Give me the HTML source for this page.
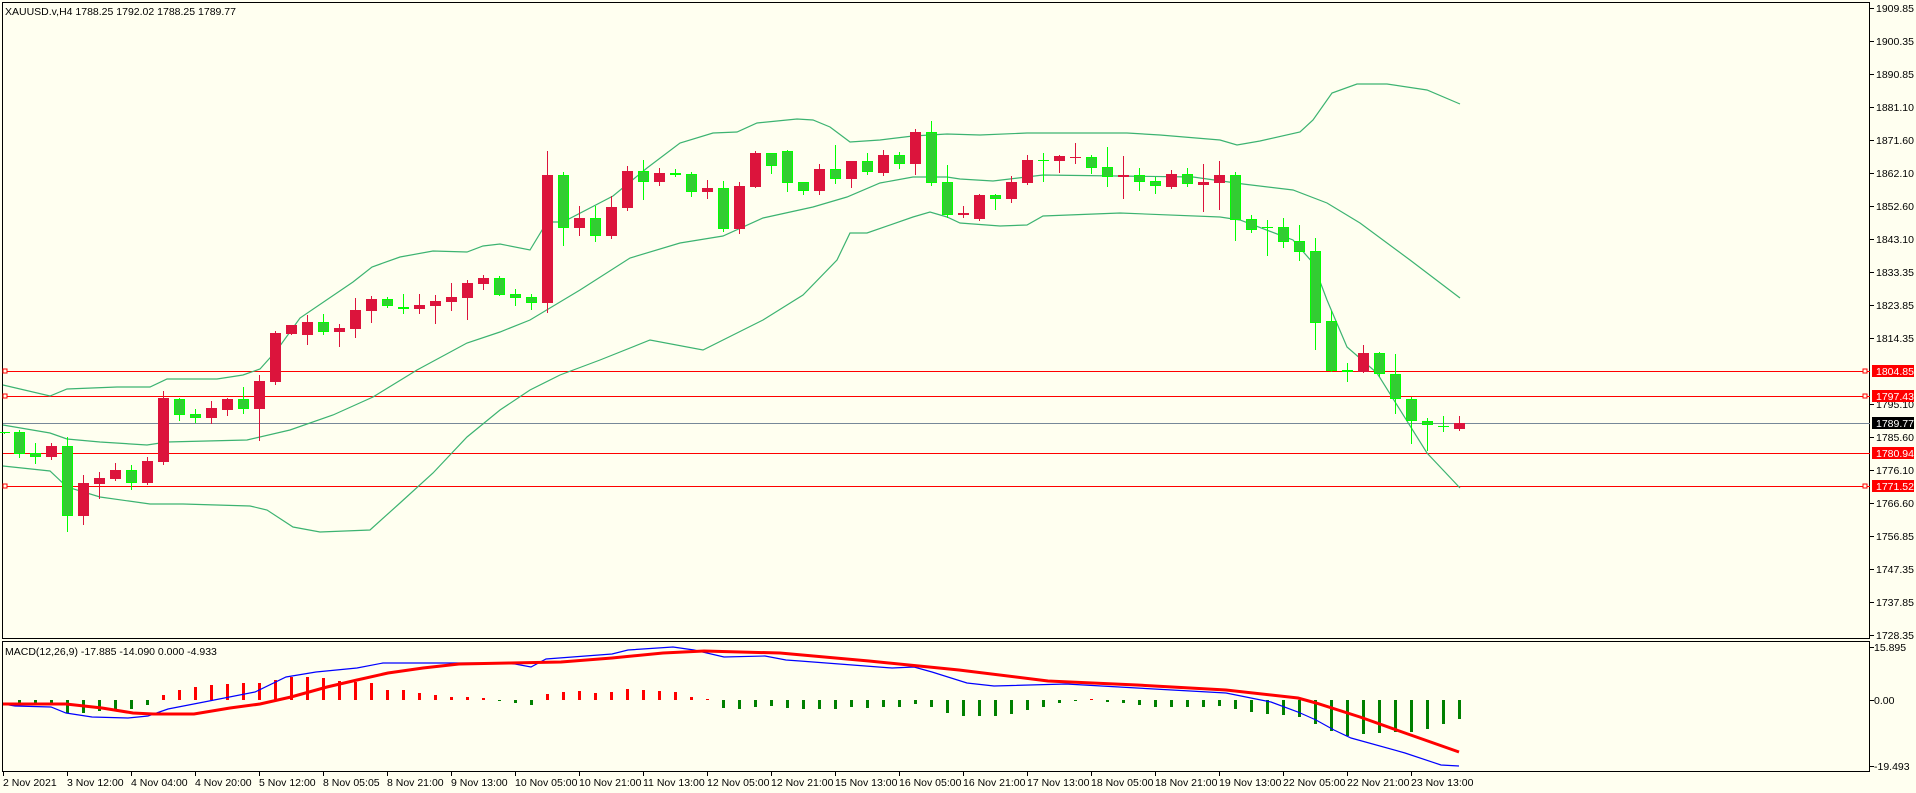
<!DOCTYPE html>
<html><head><meta charset="utf-8">
<style>
html,body{margin:0;padding:0;background:#fffff0;}
svg{display:block;}
text{font-family:"Liberation Sans",sans-serif;font-size:10.5px;fill:#000;}
</style></head>
<body>
<svg id="s" width="1916" height="793" viewBox="0 0 1916 793" xmlns="http://www.w3.org/2000/svg">
<rect width="1916" height="793" fill="#fffff0"/>
<g id="g"></g>
<text x="5" y="15">XAUUSD.v,H4  1788.25 1792.02 1788.25 1789.77</text>
<text x="5" y="655">MACD(12,26,9) -17.885 -14.090 0.000 -4.933</text>
</svg>
<script>
const NS="http://www.w3.org/2000/svg";const g=document.getElementById('g');
function el(t,a,txt){const e=document.createElementNS(NS,t);for(const k in a)e.setAttribute(k,a[k]);if(txt!==undefined)e.textContent=txt;g.appendChild(e);return e;}
// frames
el('rect',{x:2.5,y:2.5,width:1867,height:636,fill:'none',stroke:'#000','stroke-width':1});
el('rect',{x:2.5,y:641.5,width:1867,height:130,fill:'none',stroke:'#000','stroke-width':1});
// price axis
const pl=[["1909.85",8],["1900.35",41],["1890.85",74],["1881.10",107],["1871.60",140],["1862.10",173],["1852.60",206],["1843.10",239],["1833.35",272],["1823.85",305],["1814.35",338],["1795.10",404],["1785.60",437],["1776.10",470],["1766.60",503],["1756.85",536],["1747.35",569],["1737.85",602],["1728.35",635]];
pl.forEach(p=>{el('line',{x1:1870,x2:1874,y1:p[1]+.5,y2:p[1]+.5,stroke:'#000'});el('text',{x:1876,y:p[1]+4},p[0]);});
[["15.895",647],["0.00",700],["-19.493",766]].forEach(p=>{el('line',{x1:1870,x2:1874,y1:p[1]+.5,y2:p[1]+.5,stroke:'#000'});el('text',{x:1874,y:p[1]+4},p[0]);});
// date labels
const dl=["2 Nov 2021","3 Nov 12:00","4 Nov 04:00","4 Nov 20:00","5 Nov 12:00","8 Nov 05:05","8 Nov 21:00","9 Nov 13:00","10 Nov 05:00","10 Nov 21:00","11 Nov 13:00","12 Nov 05:00","12 Nov 21:00","15 Nov 13:00","16 Nov 05:00","16 Nov 21:00","17 Nov 13:00","18 Nov 05:00","18 Nov 21:00","19 Nov 13:00","22 Nov 05:00","22 Nov 21:00","23 Nov 13:00"];
dl.forEach((d,i)=>{const x=3+i*64;el('line',{x1:x+.5,x2:x+.5,y1:772,y2:776,stroke:'#000'});el('text',{x:x,y:786},d);});
// horizontal lines
const hl=[[371,'#ff0000',1,"1804.85"],[396,'#ff0000',1,"1797.43"],[453,'#ff0000',0,"1780.94"],[486,'#ff0000',1,"1771.52"]];
el('line',{x1:3,x2:1870,y1:423.5,y2:423.5,stroke:'#778899'});
el('rect',{x:1872,y:417,width:42,height:12,fill:'#000'});el('text',{x:1876,y:427,style:'fill:#fff'},"1789.77");
hl.forEach(h=>{el('line',{x1:3,x2:1870,y1:h[0]+.5,y2:h[0]+.5,stroke:h[1]});
 el('rect',{x:1872,y:h[0]-6,width:42,height:12,fill:'#ff0000'});el('text',{x:1876,y:h[0]+4,style:'fill:#fff'},h[3]);
 if(h[2]){el('rect',{x:3,y:h[0]-2,width:4,height:4,fill:'#fffff0',stroke:'#ff0000'});el('rect',{x:1863,y:h[0]-2,width:4,height:4,fill:'#fffff0',stroke:'#ff0000'});}});
// bollinger
function pl2(pts,c,w){el('polyline',{points:pts.map(p=>p.join(',')).join(' '),fill:'none',stroke:c,'stroke-width':w||1.2});}
const bc='#3cb371';
pl2([[3,385],[50,396],[67,389],[117,387],[150,387],[167,379],[217,379],[243,375],[260,369],[277,350],[300,318],[353,282],[372,267],[400,257],[433,251],[467,252],[483,246],[500,244],[530,250],[547,222],[563,222],[613,196],[647,168],[680,143],[713,133],[737,132],[757,123],[797,119],[813,120],[830,127],[850,142],[880,140],[913,136],[947,134],[980,135],[1027,133],[1127,133],[1160,135],[1220,140],[1237,145],[1260,141],[1300,132],[1313,120],[1332,93],[1357,84],[1387,84],[1427,90],[1460,104]],bc);
pl2([[3,425],[50,433],[67,439],[100,442],[147,445],[167,442],[247,440],[290,430],[333,415],[373,397],[417,370],[467,343],[500,332],[530,320],[580,290],[630,258],[680,243],[723,236],[763,218],[813,207],[847,197],[880,183],[913,177],[947,177],[960,179],[993,181],[1043,175],[1193,177],[1243,184],[1293,190],[1327,203],[1360,223],[1410,260],[1460,298]],bc);
pl2([[3,466],[50,471],[67,487],[100,497],[150,504],[183,504],[250,506],[267,510],[293,527],[320,532],[370,530],[400,503],[433,473],[467,437],[500,410],[530,390],[560,375],[600,360],[650,340],[703,350],[763,320],[803,295],[837,260],[850,233],[867,233],[913,217],[930,212],[947,217],[960,223],[1000,226],[1027,225],[1043,216],[1120,213],[1220,217],[1240,220],[1293,240],[1313,263],[1327,300],[1347,347],[1377,373],[1427,453],[1460,488]],bc);
// candles [bodyTop,bodyBot,wickTop,wickBot,color]
const C=[[432,433,432,433,'g'],
[432,454,430,457,'g'],[453,457,443,463,'g'],[446,457,443,459,'r'],[446,516,437,531,'g'],[483,516,475,524,'r'],[478,484,472,498,'r'],[470,479,463,480,'r'],[470,483,465,489,'g'],[461,483,457,484,'r'],[398,462,391,464,'r'],
[399,415,398,420,'g'],[414,418,409,422,'g'],[408,418,401,423,'r'],[399,410,398,415,'r'],[399,409,387,413,'g'],[381,409,375,440,'r'],[333,382,331,384,'r'],[325,334,325,334,'r'],[322,335,315,344,'r'],[322,332,314,334,'g'],
[328,332,324,346,'r'],[310,329,298,337,'r'],[299,311,296,322,'r'],[299,306,297,307,'g'],[307,309,294,313,'g'],[305,309,294,313,'r'],[301,306,295,323,'r'],[297,302,283,310,'r'],[283,298,280,319,'r'],[278,284,275,289,'r'],
[278,295,276,295,'g'],[294,298,289,305,'g'],[297,303,294,309,'g'],[175,303,151,312,'r'],[175,228,172,245,'g'],[218,228,206,235,'r'],[218,236,206,241,'g'],[207,236,196,238,'r'],[171,208,166,210,'r'],[171,182,160,199,'g'],
[173,182,168,185,'r'],[173,175,169,176,'g'],[174,192,172,196,'g'],[188,192,180,198,'r'],[188,229,181,231,'g'],[186,229,182,233,'r'],[153,187,151,187,'r'],[153,166,153,173,'g'],[151,183,150,191,'g'],[182,191,182,194,'g'],
[169,191,164,194,'r'],[169,179,145,183,'g'],[161,179,161,187,'r'],[161,172,153,174,'g'],[155,173,150,175,'r'],[155,164,152,168,'g'],[132,164,129,174,'r'],[132,183,121,185,'g'],[182,215,165,217,'g'],[213,215,206,217,'r'],
[195,219,194,220,'r'],[195,199,194,209,'g'],[182,199,176,202,'r'],[160,183,155,184,'r'],[160,161,153,181,'g'],[156,161,155,172,'r'],[157,158,143,163,'r'],[157,168,155,173,'g'],[167,177,147,186,'g'],[175,177,156,198,'r'],
[175,182,168,190,'g'],[181,186,177,193,'g'],[174,187,170,188,'r'],[174,184,168,186,'g'],[182,185,164,211,'r'],[175,183,161,209,'r'],[175,220,172,240,'g'],[219,230,215,232,'g'],[227,228,220,255,'g'],[227,242,218,247,'g'],
[241,252,225,260,'g'],[251,323,238,349,'g'],[321,371,311,371,'g'],[370,372,363,381,'g'],[353,372,345,372,'r'],[353,374,352,376,'g'],[374,399,354,413,'g'],[399,421,397,443,'g'],[421,425,418,450,'g'],[426,427,416,431,'g'],
[423,429,416,430,'r']];
C.forEach((c,i)=>{const x=i==0?4:19+16*(i-1);const col=c[4]=='g'?'#32cd32':'#dc143c';const wc=c[4]=='g'?'#00ff00':'#dc143c';
 el('line',{x1:x+.5,x2:x+.5,y1:c[2],y2:c[3]+1,stroke:wc,'stroke-width':1});
 const h=Math.max(1,c[1]-c[0]);
 if(h<=2){el('rect',{x:x-5,y:c[0],width:11,height:Math.max(1,h),fill:wc});}
 else el('rect',{x:x-4.5,y:c[0]+.5,width:10,height:h-1,fill:col,stroke:wc,'stroke-width':1});
});
// MACD histogram
const H=[704,704,705,713,713,711,710,709,705,695,690,687,685,684,683,683,680,677,677,678,681,682,683,690,690,693,695,697,697,698,701,703,705,694,692,691,693,692,689,690,691,692,697,699,708,709,707,706,708,709,709,709,707,708,707,707,704,707,713,716,716,716,714,710,707,703,701,699,702,703,705,707,707,707,707,706,709,712,714,715,717,724,731,736,734,733,732,732,729,724,719];
H.forEach((v,i)=>{const x=19+16*i;const up=v<700;el('rect',{x:x-1,y:Math.min(v,700),width:3,height:Math.max(1,Math.abs(v-700)),fill:up?'#ff0000':'#008000'});});
// MACD lines
function pl3(pts,c,w){el('polyline',{points:pts.map(p=>p.join(',')).join(' '),fill:'none',stroke:c,'stroke-width':w});}
pl3([[3,704],[15,706],[51,707],[66,713],[92,717],[128,718],[148,716],[168,709],[204,702],[255,692],[286,677],[316,672],[357,668],[383,663],[485,663],[515,664],[531,667],[546,659],[612,654],[628,650],[673,647],[694,650],[724,657],[765,656],[786,660],[800,661],[892,668],[914,667],[932,672],[967,683],[994,686],[1066,684],[1137,688],[1226,693],[1271,702],[1298,712],[1316,720],[1334,730],[1351,738],[1405,753],[1441,765],[1459,766]],'#0000ff',1.2);
pl3([[3,704],[66,704],[102,708],[133,713],[153,714],[194,714],[230,708],[260,704],[291,697],[327,687],[357,680],[388,673],[423,668],[459,664],[510,663],[561,662],[612,658],[663,653],[704,651],[740,652],[780,653],[869,661],[959,670],[1048,681],[1137,685],[1226,690],[1298,698],[1316,703],[1360,717],[1405,733],[1459,752]],'#ff0000',3);
</script>
</body></html>
